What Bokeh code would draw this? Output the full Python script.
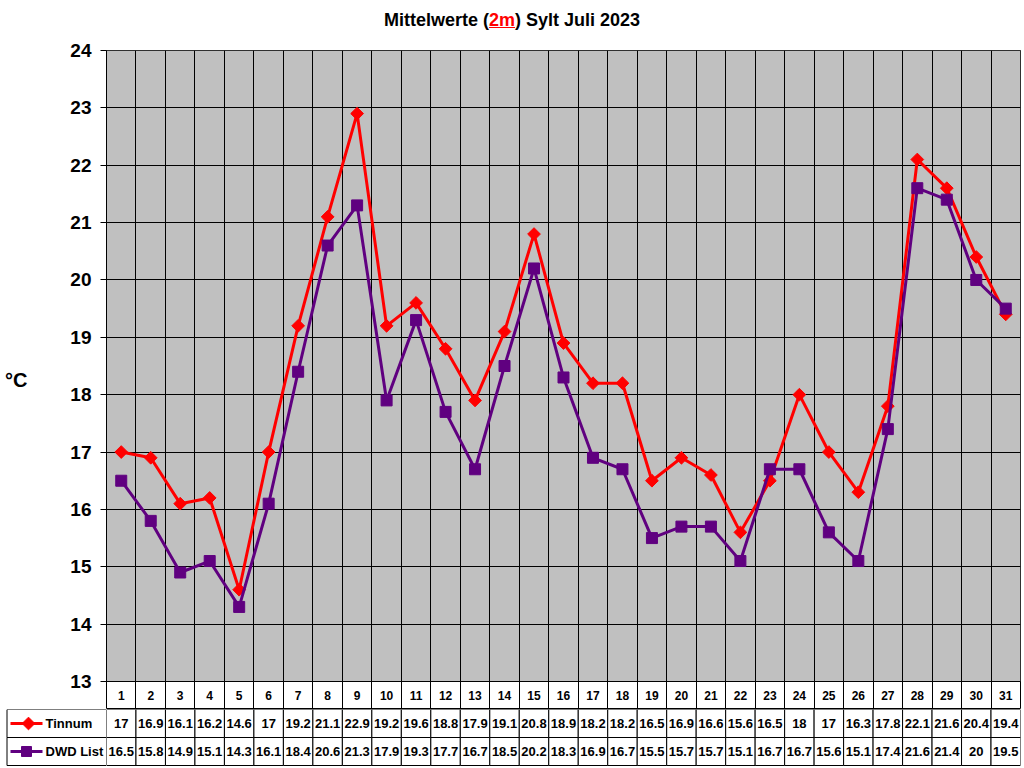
import numpy as np
from bokeh.plotting import figure
from bokeh.models import Div, FixedTicker, Range1d
from bokeh.layouts import column, row
from bokeh.embed import file_html
from bokeh.resources import INLINE
from bokeh.core.properties import value

# ---------------- data ----------------
days = list(range(1, 32))
tinnum = [17, 16.9, 16.1, 16.2, 14.6, 17, 19.2, 21.1, 22.9, 19.2, 19.6, 18.8, 17.9, 19.1, 20.8,
          18.9, 18.2, 18.2, 16.5, 16.9, 16.6, 15.6, 16.5, 18, 17, 16.3, 17.8, 22.1, 21.6, 20.4, 19.4]
dwd = [16.5, 15.8, 14.9, 15.1, 14.3, 16.1, 18.4, 20.6, 21.3, 17.9, 19.3, 17.7, 16.7, 18.5, 20.2,
       18.3, 16.9, 16.7, 15.5, 15.7, 15.7, 15.1, 16.7, 16.7, 15.6, 15.1, 17.4, 21.6, 21.4, 20, 19.5]
series_names = ["Tinnum", "DWD List"]
y_ticks = list(range(13, 25))
y_unit = "°C"
title_main = "Mittelwerte ("
title_red = "2m"
title_end = ") Sylt Juli 2023"

# ---------------- styles / layout ----------------
FONT = "Liberation Sans"
RED = "#FF0000"
PURPLE = "#600080"
GRAY = "#C0C0C0"
W = 1024
TITLE_H = 38
BORDER_L = 106
BORDER_R = 4
TOP_B = 12
PLOT_PX = 631
DAYROW_PX = 28
ROW_PX = 28
ppd = PLOT_PX / (y_ticks[-1] - y_ticks[0])

title = Div(
    text=('<div style="font-family:\'Liberation Sans\',Arial,sans-serif;font-weight:bold;'
          'font-size:18px;text-align:center;width:%dpx;padding-left:14px;padding-top:8px;'
          'line-height:24px;color:#000;">'
          '%s<span style="color:#FF0000;text-decoration:underline;">%s</span>%s</div>'
          % (W - 14, title_main, title_red, title_end)),
    width=W, height=TITLE_H, margin=0)

# ---------------- main chart ----------------
y0 = y_ticks[0] - DAYROW_PX / ppd
p = figure(width=W, height=TOP_B + PLOT_PX + DAYROW_PX,
           x_range=Range1d(0.5, len(days) + 0.5), y_range=Range1d(y0, y_ticks[-1]),
           output_backend="svg", toolbar_location=None, x_axis_location=None,
           min_border_left=BORDER_L, min_border_right=BORDER_R,
           min_border_top=TOP_B, min_border_bottom=0,
           background_fill_color="white", border_fill_color="white",
           outline_line_color="black", outline_line_width=1, margin=0)

p.quad(left=[0.5], right=[len(days) + 0.5], bottom=[y_ticks[0]], top=[y_ticks[-1]],
       fill_color=GRAY, line_color=None, level="image")

p.ygrid.ticker = FixedTicker(ticks=y_ticks)
p.ygrid.grid_line_color = "black"
p.ygrid.grid_line_width = 1
p.xgrid.ticker = FixedTicker(ticks=[d + 0.5 for d in range(0, len(days) + 1)])
p.xgrid.grid_line_color = "black"
p.xgrid.grid_line_width = 1

ax = p.yaxis[0]
ax.ticker = FixedTicker(ticks=y_ticks)
ax.bounds = (y_ticks[0], y_ticks[-1])
ax.major_label_text_font = FONT
ax.major_label_text_font_size = "19px"
ax.major_label_text_font_style = "bold"
ax.major_label_text_color = "black"
ax.major_label_standoff = 9
ax.major_tick_out = 6
ax.major_tick_in = 0
ax.minor_tick_out = 0
ax.minor_tick_in = 0
ax.axis_line_color = "black"
ax.major_tick_line_color = "black"
ax.axis_label = y_unit
ax.axis_label_orientation = "horizontal"
ax.axis_label_standoff = 40
ax.axis_label_text_font = FONT
ax.axis_label_text_font_size = "20px"
ax.axis_label_text_font_style = "bold"
ax.axis_label_text_color = "black"

# day number row
p.text(x=days, y=[(y0 + y_ticks[0]) / 2] * len(days), text=[str(d) for d in days],
       text_align="center", text_baseline="middle", text_font=value(FONT),
       text_font_size="12px", text_font_style="bold", text_color="black")

p.line(days, tinnum, line_color=RED, line_width=3)
p.scatter(days, tinnum, marker="square", angle=np.pi / 4, size=9, fill_color=RED, line_color=RED)
p.line(days, dwd, line_color=PURPLE, line_width=3)
p.scatter(days, dwd, marker="square", size=11, fill_color=PURPLE, line_color=PURPLE)

# ---------------- data table ----------------
T_H = 2 * ROW_PX + 1
t = figure(width=W - BORDER_L, height=T_H,
           x_range=Range1d(0.5, len(days) + 0.5), y_range=Range1d(-1.0 / ROW_PX, 2),
           output_backend="svg", toolbar_location=None,
           x_axis_location=None, y_axis_location=None,
           min_border_left=0, min_border_right=BORDER_R, min_border_top=0, min_border_bottom=0,
           background_fill_color="white", border_fill_color="white",
           outline_line_color=None, margin=0)
t.grid.visible = False

rows_y = [1.5, 0.5]
vals = [tinnum, dwd]
for ry, vs in zip(rows_y, vals):
    t.quad(left=[d - 0.5 for d in days], right=[d + 0.5 for d in days],
           bottom=[ry - 0.5] * len(days), top=[ry + 0.5] * len(days),
           fill_color="white", line_color="black", line_width=1)
    t.text(x=days, y=[ry] * len(days), text=[f"{v:g}" for v in vs],
           text_align="center", text_baseline="middle", text_font=value(FONT),
           text_font_size="13px", text_font_style="bold", text_color="black")

# legend cells (left of the table), x in pixel units of this small figure
lg = figure(width=BORDER_L, height=T_H,
            x_range=Range1d(0, BORDER_L), y_range=Range1d(-1.0 / ROW_PX, 2),
            output_backend="svg", toolbar_location=None,
            x_axis_location=None, y_axis_location=None,
            min_border_left=0, min_border_right=0, min_border_top=0, min_border_bottom=0,
            background_fill_color="white", border_fill_color="white",
            outline_line_color=None, margin=0)
lg.grid.visible = False
lg.quad(left=[6.5, 6.5], right=[BORDER_L, BORDER_L], bottom=[1, 0], top=[2, 1],
        fill_color="white", line_color="black", line_width=1)
lg.line([10, 42], [rows_y[0]] * 2, line_color=RED, line_width=3)
lg.scatter([28], [rows_y[0]], marker="square", angle=np.pi / 4, size=9,
           fill_color=RED, line_color=RED)
lg.line([10, 42], [rows_y[1]] * 2, line_color=PURPLE, line_width=3)
lg.scatter([26], [rows_y[1]], marker="square", size=10, fill_color=PURPLE, line_color=PURPLE)
lg.text(x=[45, 45], y=rows_y, text=series_names, text_align="left", text_baseline="middle",
        text_font=value(FONT), text_font_size="13px", text_font_style="bold", text_color="black")

layout = column(title, p, row(lg, t, spacing=0, margin=0), spacing=0, margin=0)
open("out.html", "w").write(file_html(layout, INLINE))
